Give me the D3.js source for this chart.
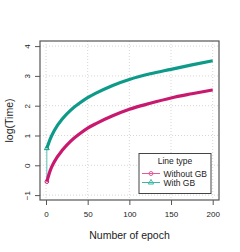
<!doctype html>
<html lang="en">
  <head>
    <meta charset="utf-8">
    <title>log(Time) vs epoch</title>
    <script src="https://d3js.org/d3.v7.min.js"></script>
    <style>
      body { margin: 0; background: #fff; }
      text { font-family: "Liberation Sans", Arial, sans-serif; fill: #222; }
    </style>
  </head>
  <body>
    <div id="my_dataviz"></div>

    <script>
      // data
      var epochs    = [1, 5, 10, 20, 30, 40, 50, 60, 80, 100, 125, 150, 175, 200];
      var withoutGB = [-0.55, -0.18, 0.12, 0.52, 0.82, 1.05, 1.25, 1.4, 1.66, 1.88, 2.08, 2.26, 2.4, 2.53];
      var withGB    = [0.57, 0.88, 1.17, 1.57, 1.86, 2.08, 2.27, 2.42, 2.68, 2.88, 3.07, 3.22, 3.37, 3.51];
      var xTicks = [0, 50, 100, 150, 200];
      var yTicks = [-1, 0, 1, 2, 3, 4];
      var seriesNames = ["Without GB", "With GB"];

      var pink = "#c8196f", teal = "#0e9a88";

      var W = 240, H = 252;
      var pLeft = 40, pRight = 219, pTop = 41, pBottom = 200;

      var svg = d3.select("#my_dataviz").append("svg")
        .attr("width", W).attr("height", H);

      // domains chosen so the ticks sit where the reference has them
      var x = d3.scaleLinear()
        .domain([(pLeft - 46) / 0.8335, (pRight - 46) / 0.8335])
        .range([pLeft, pRight]);
      var y = d3.scaleLinear()
        .domain([(165.3 - pBottom) / 29.8, (165.3 - pTop) / 29.8])
        .range([pBottom, pTop]);

      // grid
      var grid = svg.append("g").attr("stroke", "#d6d6d6").attr("stroke-dasharray", "1,2").attr("stroke-width", 1);
      xTicks.forEach(function(t) {
        grid.append("line").attr("x1", x(t)).attr("x2", x(t)).attr("y1", pTop).attr("y2", pBottom);
      });
      yTicks.forEach(function(t) {
        grid.append("line").attr("x1", pLeft).attr("x2", pRight).attr("y1", y(t)).attr("y2", y(t));
      });

      // axes
      var xAxis = svg.append("g")
        .attr("transform", "translate(0," + pBottom + ")")
        .call(d3.axisBottom(x).tickValues(xTicks).tickSize(5).tickPadding(6));
      var yAxis = svg.append("g")
        .attr("transform", "translate(" + pLeft + ",0)")
        .call(d3.axisLeft(y).tickValues(yTicks).tickSize(5).tickFormat(d3.format("d")));
      [xAxis, yAxis].forEach(function(a) {
        a.select(".domain").remove();
        a.selectAll(".tick line").attr("stroke", "#555");
        a.selectAll("text").attr("font-size", 8).attr("fill", "#222");
      });
      yAxis.selectAll(".tick text")
        .attr("transform", "rotate(-90)")
        .attr("x", 0).attr("y", -10)
        .attr("text-anchor", "middle").attr("dy", "0");

      // box
      svg.append("rect").attr("x", pLeft).attr("y", pTop)
        .attr("width", pRight - pLeft).attr("height", pBottom - pTop)
        .attr("fill", "none").attr("stroke", "#555").attr("stroke-width", 1.2);

      // labels
      svg.append("text").attr("x", (pLeft + pRight) / 2).attr("y", 239)
        .attr("text-anchor", "middle").attr("font-size", 10.5).text("Number of epoch");
      svg.append("text").attr("transform", "translate(13," + ((pTop + pBottom) / 2) + ") rotate(-90)")
        .attr("text-anchor", "middle").attr("font-size", 10.5).text("log(Time)");

      var line = d3.line()
        .x(function(d) { return x(d[0]); })
        .y(function(d) { return y(d[1]); })
        .curve(d3.curveMonotoneX);

      var dWithout = epochs.map(function(e, i) { return [e, withoutGB[i]]; });
      var dWith = epochs.map(function(e, i) { return [e, withGB[i]]; });

      // thin first segment of With GB
      svg.append("line")
        .attr("x1", x(epochs[0])).attr("y1", y(withoutGB[0]))
        .attr("x2", x(epochs[0])).attr("y2", y(withGB[0]))
        .attr("stroke", "#5cc3b3").attr("stroke-width", 1);

      svg.append("path").datum(dWithout)
        .attr("fill", "none").attr("stroke", pink).attr("stroke-width", 3.2).attr("d", line);
      svg.append("path").datum(dWith)
        .attr("fill", "none").attr("stroke", teal).attr("stroke-width", 3.2).attr("d", line);

      // start markers
      svg.append("circle").attr("cx", x(epochs[0])).attr("cy", y(withoutGB[0])).attr("r", 1.8)
        .attr("fill", "none").attr("stroke", pink).attr("stroke-width", 1);
      svg.append("path").attr("d", d3.symbol().type(d3.symbolTriangle).size(10)())
        .attr("transform", "translate(" + x(epochs[0]) + "," + y(withGB[0]) + ")")
        .attr("fill", "none").attr("stroke", teal).attr("stroke-width", 1);

      // legend
      var lg = svg.append("g");
      lg.append("rect").attr("x", 139).attr("y", 153.5).attr("width", 72).attr("height", 40)
        .attr("fill", "#fff").attr("stroke", "#444").attr("stroke-width", 1);
      lg.append("text").attr("x", 175).attr("y", 164).attr("text-anchor", "middle")
        .attr("font-size", 8.5).text("Line type");
      var cols = ["#e05a9c", "#3fb5a3"];
      seriesNames.forEach(function(name, i) {
        var yy = 173.5 + i * 9;
        lg.append("line").attr("x1", 142).attr("x2", 160).attr("y1", yy).attr("y2", yy)
          .attr("stroke", cols[i]).attr("stroke-width", 1);
        if (i == 0) {
          lg.append("circle").attr("cx", 151).attr("cy", yy).attr("r", 2)
            .attr("fill", "none").attr("stroke", cols[i]).attr("stroke-width", 1);
        } else {
          lg.append("path").attr("d", d3.symbol().type(d3.symbolTriangle).size(12)())
            .attr("transform", "translate(151," + yy + ")")
            .attr("fill", "none").attr("stroke", cols[i]).attr("stroke-width", 1);
        }
        lg.append("text").attr("x", 163.5).attr("y", yy + 3).attr("font-size", 8.5).text(name);
      });
    </script>
  </body>
</html>
